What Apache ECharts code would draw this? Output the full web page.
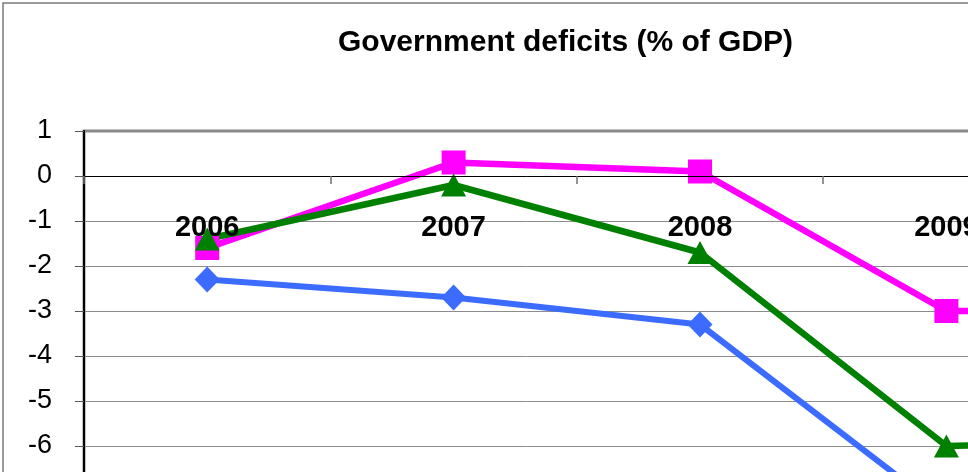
<!DOCTYPE html>
<html>
<head>
<meta charset="utf-8">
<title>Government deficits (% of GDP)</title>
<script src="https://cdn.jsdelivr.net/npm/echarts@6/dist/echarts.min.js"></script>
<style>
  html, body { margin: 0; padding: 0; background: #ffffff; }
  #chart { width: 968px; height: 472px; }
</style>
</head>
<body>
<div id="chart"></div>
<script>
// Years on the category axis
const years = ['2006', '2007', '2008', '2009', '2010'];

// Government balance, % of GDP
const blueValues = [-2.3, -2.7, -3.3, -7.5, null];
const pinkValues = [-1.6, 0.3, 0.1, -3.0, -3.0];
const greenValues = [-1.4, -0.2, -1.7, -6.0, -5.9];

// Value axis range
const yMin = -10;
const yMax = 1;
const yStep = 1;

const FONT = '"Liberation Sans", Arial, Helvetica, sans-serif';

// plot geometry: 45 px per unit, category band 246.4 px
const GRID_TOP = 131;
const UNIT_PX = 45;
const GRID_HEIGHT = (yMax - yMin) * UNIT_PX;
// distance from the bottom of the plot up to the zero line
const ZERO_OFFSET = -(yMax - yMin - yMax) * UNIT_PX;

const chart = echarts.init(document.getElementById('chart'), null, { renderer: 'canvas' });

function lineSeries(name, data, color, symbol, size, width) {
  return {
    name: name,
    type: 'line',
    data: data,
    symbol: symbol,
    symbolSize: size,
    showAllSymbol: true,
    connectNulls: false,
    lineStyle: { color: color, width: width },
    itemStyle: { color: color, borderWidth: 0 },
    emphasis: { disabled: true },
    animation: false
  };
}

const blue = lineSeries('Series 1', blueValues, '#3b6cff', 'diamond', [25, 26], 6);
// zero line drawn in black above the gridlines
blue.markLine = {
  silent: true,
  symbol: ['none', 'none'],
  label: { show: false },
  lineStyle: { color: '#000000', width: 1, type: 'solid' },
  data: [{ yAxis: 0 }],
  animation: false
};

const option = {
  backgroundColor: '#ffffff',
  animation: false,
  title: {
    text: 'Government deficits (% of GDP)',
    left: 338,
    top: 28,
    padding: 0,
    textStyle: { fontFamily: FONT, fontSize: 30, fontWeight: 'bold', color: '#000000' }
  },
  graphic: [{
    type: 'rect',
    silent: true,
    z: 100,
    shape: { x: 3, y: 3, width: 1200, height: 800 },
    style: { fill: 'none', stroke: '#7a7a7a', lineWidth: 1.5 }
  }],
  grid: {
    left: 84,
    top: GRID_TOP,
    width: 1232,
    height: GRID_HEIGHT,
    show: true,
    borderColor: '#888888',
    borderWidth: 3,
    backgroundColor: 'transparent',
    containLabel: false,
    outerBoundsMode: 'none'
  },
  xAxis: {
    type: 'category',
    data: years,
    boundaryGap: true,
    position: 'bottom',
    offset: ZERO_OFFSET,
    z: 10,
    axisLine: { show: true, onZero: false, lineStyle: { color: 'rgba(0,0,0,0)', width: 1 } },
    axisTick: { show: true, interval: 0, alignWithLabel: false, length: 8, lineStyle: { color: '#707070', width: 1.5 } },
    axisLabel: {
      interval: 0,
      margin: 37,
      fontFamily: FONT,
      fontSize: 29,
      fontWeight: 'bold',
      color: '#000000'
    },
    splitLine: { show: false }
  },
  yAxis: {
    type: 'value',
    min: yMin,
    max: yMax,
    interval: yStep,
    axisLine: { show: true, onZero: false, lineStyle: { color: '#000000', width: 2 } },
    axisTick: { show: true, length: 9, lineStyle: { color: '#555555', width: 1 } },
    axisLabel: {
      margin: 32,
      fontFamily: FONT,
      fontSize: 27,
      color: '#000000'
    },
    splitLine: { show: true, lineStyle: { color: '#8c8c8c', width: 1 } }
  },
  series: [
    blue,
    lineSeries('Series 2', pinkValues, '#ff00ff', 'rect', 24, 6.5),
    lineSeries('Series 3', greenValues, '#008000', 'triangle', [25, 23], 6.5)
  ]
};

chart.setOption(option);
</script>
</body>
</html>
